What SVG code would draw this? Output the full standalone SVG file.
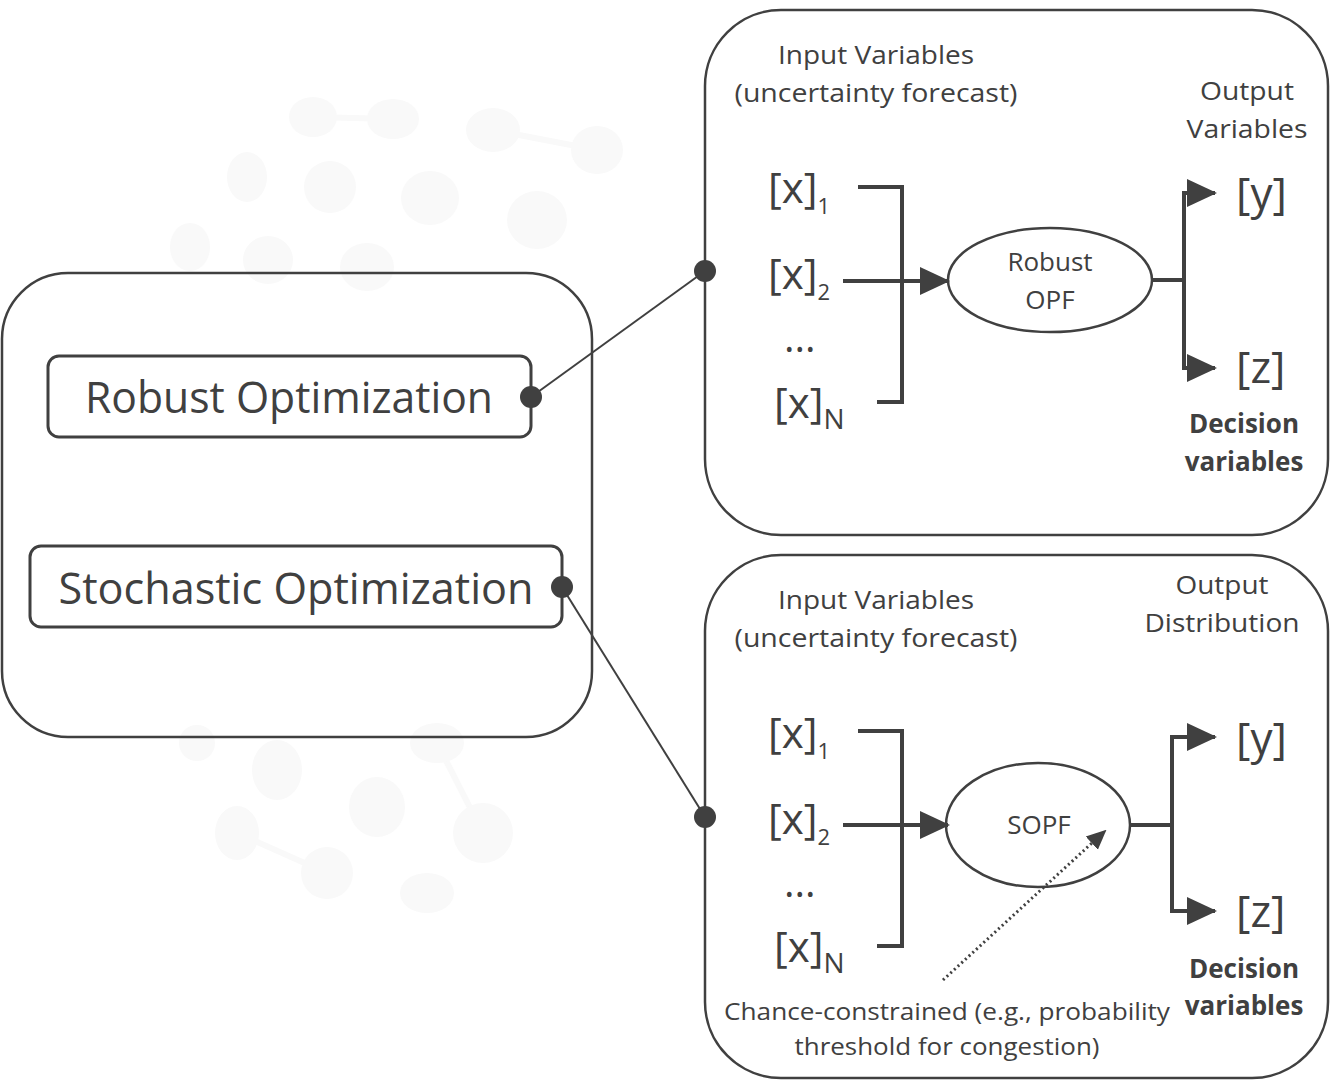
<svg xmlns="http://www.w3.org/2000/svg" width="1332" height="1081" viewBox="0 0 1332 1081">
<defs>
<style>
.box{fill:none;stroke:#404040;stroke-width:2.5}
.ln{fill:none;stroke:#404040;stroke-width:2}
.th{fill:none;stroke:#404040;stroke-width:4}
.t{font-family:"Open Sans","Noto Sans",sans-serif;fill:#404040}
.bg{fill:#f9f9f9}
.bgl{stroke:#f9f9f9;stroke-width:6}
</style>
<marker id="ah2" markerWidth="30" markerHeight="30" refX="28" refY="15" orient="auto" markerUnits="userSpaceOnUse" viewBox="0 0 30 30">
<path d="M0,1 L30,15 L0,29 z" fill="#404040"/>
</marker>
<marker id="ah3" markerWidth="20" markerHeight="20" refX="18" refY="10" orient="auto" markerUnits="userSpaceOnUse" viewBox="0 0 20 20">
<path d="M0,1 L20,10 L0,19 z" fill="#404040"/>
</marker>
</defs>
<rect width="1332" height="1081" fill="#ffffff"/>
<g id="background">
<line class="bgl" x1="313" y1="117" x2="393" y2="119"/>
<line class="bgl" x1="493" y1="130" x2="597" y2="150"/>
<line class="bgl" x1="437" y1="743" x2="483" y2="833"/>
<line class="bgl" x1="237" y1="833" x2="327" y2="873"/>
<ellipse class="bg" cx="313" cy="117" rx="24" ry="20"/>
<ellipse class="bg" cx="393" cy="119" rx="26" ry="20"/>
<ellipse class="bg" cx="493" cy="130" rx="27" ry="22"/>
<ellipse class="bg" cx="597" cy="150" rx="26" ry="24"/>
<ellipse class="bg" cx="247" cy="177" rx="20" ry="25"/>
<ellipse class="bg" cx="330" cy="187" rx="26" ry="26"/>
<ellipse class="bg" cx="430" cy="198" rx="29" ry="27"/>
<ellipse class="bg" cx="537" cy="220" rx="30" ry="29"/>
<ellipse class="bg" cx="190" cy="247" rx="20" ry="24"/>
<ellipse class="bg" cx="268" cy="260" rx="25" ry="24"/>
<ellipse class="bg" cx="367" cy="267" rx="27" ry="24"/>
<ellipse class="bg" cx="197" cy="743" rx="18" ry="18"/>
<ellipse class="bg" cx="277" cy="770" rx="25" ry="30"/>
<ellipse class="bg" cx="437" cy="743" rx="27" ry="20"/>
<ellipse class="bg" cx="377" cy="807" rx="28" ry="30"/>
<ellipse class="bg" cx="483" cy="833" rx="30" ry="30"/>
<ellipse class="bg" cx="237" cy="833" rx="22" ry="27"/>
<ellipse class="bg" cx="327" cy="873" rx="26" ry="26"/>
<ellipse class="bg" cx="427" cy="893" rx="27" ry="20"/>
</g>
<g id="connectors">
<line class="ln" x1="531" y1="397" x2="705" y2="271"/>
<line class="ln" x1="562" y1="587" x2="705" y2="817"/>
<circle cx="531" cy="397" r="11" fill="#404040"/>
<circle cx="562" cy="587" r="11" fill="#404040"/>
<circle cx="705" cy="271" r="11" fill="#404040"/>
<circle cx="705" cy="817" r="11" fill="#404040"/>
</g>
<g id="left-box">
<rect class="box" x="2" y="273" width="590" height="464" rx="66" ry="66"/>
</g>
<g id="robust-optimization">
<rect class="box" x="48" y="356" width="483" height="81" rx="11" ry="11" style="stroke-width:3"/>
<text class="t" x="289" y="413" font-size="44" text-anchor="middle" textLength="408" lengthAdjust="spacingAndGlyphs">Robust Optimization</text>
</g>
<g id="stochastic-optimization">
<rect class="box" x="30" y="546" width="532" height="81" rx="11" ry="11" style="stroke-width:3"/>
<text class="t" x="296" y="604" font-size="44" text-anchor="middle" textLength="475" lengthAdjust="spacingAndGlyphs">Stochastic Optimization</text>
</g>
<g id="robust-panel">
<rect class="box" x="705" y="10" width="623" height="525" rx="76" ry="76"/>
<text class="t" x="876" y="64" font-size="26" text-anchor="middle" textLength="196" lengthAdjust="spacingAndGlyphs">Input Variables</text>
<text class="t" x="876" y="102" font-size="26" text-anchor="middle" textLength="283" lengthAdjust="spacingAndGlyphs">(uncertainty forecast)</text>
<text class="t" x="1247" y="100" font-size="26" text-anchor="middle" textLength="94" lengthAdjust="spacingAndGlyphs">Output</text>
<text class="t" x="1247" y="138" font-size="26" text-anchor="middle" textLength="121" lengthAdjust="spacingAndGlyphs">Variables</text>
<text class="t" x="768" y="203" font-size="42">[x]<tspan font-size="22" dy="11">1</tspan></text>
<text class="t" x="768" y="289" font-size="42">[x]<tspan font-size="22" dy="11">2</tspan></text>
<text class="t" x="784" y="352" font-size="40">...</text>
<text class="t" x="774" y="418" font-size="42">[x]<tspan font-size="28" dy="11">N</tspan></text>
<polyline class="th" points="858,187 902,187 902,402 877,402"/>
<line class="th" x1="843" y1="281" x2="948" y2="281" marker-end="url(#ah2)"/>
<ellipse class="box" cx="1050" cy="280" rx="102" ry="52"/>
<text class="t" x="1050" y="271" font-size="26" text-anchor="middle">Robust</text>
<text class="t" x="1050" y="309" font-size="26" text-anchor="middle">OPF</text>
<line class="th" x1="1152" y1="280" x2="1185" y2="280"/>
<line class="th" x1="1184" y1="191" x2="1184" y2="370"/>
<line class="th" x1="1182" y1="193" x2="1215" y2="193" marker-end="url(#ah2)"/>
<line class="th" x1="1182" y1="368" x2="1215" y2="368" marker-end="url(#ah2)"/>
<text class="t" x="1236" y="209" font-size="44">[y]</text>
<text class="t" x="1236" y="383" font-size="44">[z]</text>
<text class="t" x="1244" y="433" font-size="26" font-weight="bold" text-anchor="middle">Decision</text>
<text class="t" x="1244" y="471" font-size="26" font-weight="bold" text-anchor="middle">variables</text>
</g>
<g id="stochastic-panel">
<rect class="box" x="705" y="555" width="623" height="523" rx="76" ry="76"/>
<text class="t" x="876" y="609" font-size="26" text-anchor="middle" textLength="196" lengthAdjust="spacingAndGlyphs">Input Variables</text>
<text class="t" x="876" y="647" font-size="26" text-anchor="middle" textLength="283" lengthAdjust="spacingAndGlyphs">(uncertainty forecast)</text>
<text class="t" x="1222" y="594" font-size="26" text-anchor="middle" textLength="93" lengthAdjust="spacingAndGlyphs">Output</text>
<text class="t" x="1222" y="632" font-size="26" text-anchor="middle" textLength="155" lengthAdjust="spacingAndGlyphs">Distribution</text>
<text class="t" x="768" y="748" font-size="42">[x]<tspan font-size="22" dy="11">1</tspan></text>
<text class="t" x="768" y="834" font-size="42">[x]<tspan font-size="22" dy="11">2</tspan></text>
<text class="t" x="784" y="897" font-size="40">...</text>
<text class="t" x="774" y="962" font-size="42">[x]<tspan font-size="28" dy="11">N</tspan></text>
<polyline class="th" points="858,731 902,731 902,946 877,946"/>
<line class="th" x1="843" y1="825" x2="948" y2="825" marker-end="url(#ah2)"/>
<ellipse class="box" cx="1038" cy="825" rx="92" ry="62"/>
<text class="t" x="1039" y="834" font-size="26" text-anchor="middle">SOPF</text>
<line class="th" x1="1130" y1="825" x2="1173" y2="825"/>
<line class="th" x1="1172" y1="735" x2="1172" y2="913"/>
<line class="th" x1="1170" y1="737" x2="1215" y2="737" marker-end="url(#ah2)"/>
<line class="th" x1="1170" y1="911" x2="1215" y2="911" marker-end="url(#ah2)"/>
<text class="t" x="1236" y="754" font-size="44">[y]</text>
<text class="t" x="1236" y="927" font-size="44">[z]</text>
<text class="t" x="1244" y="978" font-size="26" font-weight="bold" text-anchor="middle">Decision</text>
<text class="t" x="1244" y="1015" font-size="26" font-weight="bold" text-anchor="middle">variables</text>
<line x1="943" y1="980" x2="1105" y2="831" stroke="#404040" stroke-width="3" stroke-dasharray="2,3" marker-end="url(#ah3)"/>
<text class="t" x="947" y="1020" font-size="24" text-anchor="middle" textLength="446" lengthAdjust="spacingAndGlyphs">Chance-constrained (e.g., probability</text>
<text class="t" x="947" y="1055" font-size="24" text-anchor="middle" textLength="305" lengthAdjust="spacingAndGlyphs">threshold for congestion)</text>
</g>
</svg>
